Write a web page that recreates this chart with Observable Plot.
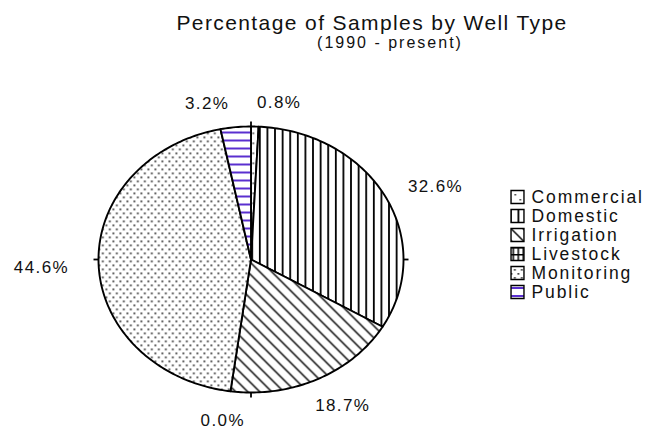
<!DOCTYPE html>
<html>
<head>
<meta charset="utf-8">
<script src="https://cdn.jsdelivr.net/npm/d3@7"></script>
<script src="https://cdn.jsdelivr.net/npm/@observablehq/plot@0.6"></script>
<style>
  html, body { margin: 0; padding: 0; background: #fff; }
  #wrap { position: relative; width: 656px; height: 433px; overflow: hidden;
          font-family: "Liberation Sans", Arial, sans-serif; color: #000; background: #fff; }
  #wrap > * { position: absolute; }
  #chart { left: 0; top: 0; }
  #title { left: 172px; top: 12px; width: 400px; text-align: center;
           font-size: 21px; line-height: 21px; letter-spacing: 1.4px; white-space: nowrap; color: #111; }
  #subtitle { left: 290px; top: 35px; width: 200px; text-align: center;
              font-size: 16px; line-height: 16px; letter-spacing: 2px; white-space: nowrap; color: #111; }
  #legend { left: 503px; top: 185px; }
  #chart text { letter-spacing: 1.4px; }
  #legend text { letter-spacing: 1.9px; }
</style>
</head>
<body>
<div id="wrap">
  <div id="chart"></div>
  <div id="title"></div>
  <div id="subtitle"></div>
  <div id="legend"></div>
</div>
<script>
// ---- data ----
const titleText = "Percentage of Samples by Well Type";
const subtitleText = "(1990 - present)";
const categories = ["Commercial", "Domestic", "Irrigation", "Livestock", "Monitoring", "Public"];
const percents = [0.8, 32.6, 18.7, 0.0, 44.6, 3.2];
const labelTexts = ["0.8%", "32.6%", "18.7%", "0.0%", "44.6%", "3.2%"];
const tickAngles = [0, 90, 180, 270];

// ---- layout ----
const W = 656, H = 433;
const frame = {left: 98, right: 403, top: 126, bottom: 392};
const pxX = (frame.right - frame.left) / 2;
const pxY = (frame.bottom - frame.top) / 2;
const KX = 1.375, KY = 1.2;

document.getElementById("title").textContent = titleText;
document.getElementById("subtitle").textContent = subtitleText;

const patternIds = categories.map(c => "pat-" + c.toLowerCase());
const colorScale = {type: "ordinal", domain: categories, range: patternIds.map(id => `url(#${id})`)};

const rad = a => a * Math.PI / 180;
const total = d3.sum(percents);
let cum = 0;
const slices = categories.map((c, i) => {
  const a0 = cum / total * 360;
  cum += percents[i];
  const a1 = cum / total * 360;
  return {category: c, value: percents[i], label: labelTexts[i], a0, a1, mid: (a0 + a1) / 2};
});

const outline = slices.filter(s => s.value > 0).flatMap(s => {
  const n = Math.max(2, Math.ceil(s.a1 - s.a0));
  const pts = [{category: s.category, x: 0, y: 0}];
  for (let k = 0; k <= n; k++) {
    const a = s.a0 + (s.a1 - s.a0) * k / n;
    pts.push({category: s.category, x: Math.sin(rad(a)), y: Math.cos(rad(a))});
  }
  return pts;
});

// label anchors outside the pie, spread apart where they collide
const labels = slices.map(s => ({...s, lx: Math.sin(rad(s.mid)) * KX, ly: Math.cos(rad(s.mid)) * KY}));
const minSep = 72 / pxX;
for (let i = 0; i < labels.length; i++) {
  for (let j = i + 1; j < labels.length; j++) {
    const A = labels[i], B = labels[j];
    if (Math.abs(A.ly - B.ly) * pxY < 20 && Math.abs(A.lx - B.lx) < minSep) {
      const m = (A.lx + B.lx) / 2;
      const [lo, hi] = A.lx < B.lx ? [A, B] : [B, A];
      lo.lx = m - minSep / 2; hi.lx = m + minSep / 2;
    }
  }
}

const chart = Plot.plot({
  width: W, height: H,
  marginLeft: frame.left, marginRight: W - frame.right,
  marginTop: frame.top, marginBottom: H - frame.bottom,
  x: {domain: [-1, 1], axis: null},
  y: {domain: [-1, 1], axis: null},
  color: colorScale,
  style: {fontFamily: '"Liberation Sans", Arial, sans-serif', background: "transparent", overflow: "visible"},
  marks: [
    Plot.line(outline, {x: "x", y: "y", z: "category", fill: "category", stroke: "black",
                        strokeWidth: 1.9, curve: "linear-closed", strokeLinejoin: "round"}),
    Plot.link(tickAngles, {
      x1: a => Math.sin(rad(a)), y1: a => Math.cos(rad(a)),
      x2: a => Math.sin(rad(a)) * (1 + 5 / pxX), y2: a => Math.cos(rad(a)) * (1 + 5 / pxY),
      stroke: "black", strokeWidth: 1.8
    }),
    Plot.text(labels, {x: "lx", y: "ly", text: "label", fontSize: 17, dy: 3, fill: "#111"})
  ]
});

const defs = `
<defs>
  <pattern id="pat-commercial" patternUnits="userSpaceOnUse" width="10" height="10">
    <rect width="10" height="10" fill="#fff"/>
    <rect x="2" y="2" width="1.5" height="1.5" fill="#222"/>
    <rect x="7" y="7" width="1.5" height="1.5" fill="#222"/>
  </pattern>
  <pattern id="pat-domestic" patternUnits="userSpaceOnUse" width="7.6" height="8">
    <rect width="7.6" height="8" fill="#fff"/>
    <rect x="0" y="0" width="1.8" height="8" fill="#000"/>
  </pattern>
  <pattern id="pat-irrigation" patternUnits="userSpaceOnUse" width="12" height="12">
    <rect width="12" height="12" fill="#fff"/>
    <path d="M0,0L12,12M-6,6L6,18M6,-6L18,6" stroke="#000" stroke-width="1.4"/>
  </pattern>
  <pattern id="pat-livestock" patternUnits="userSpaceOnUse" width="5" height="7">
    <rect width="5" height="7" fill="#fff"/>
    <rect x="0" y="0" width="1.5" height="7" fill="#000"/>
    <rect x="0" y="0" width="5" height="1.5" fill="#000"/>
  </pattern>
  <pattern id="pat-monitoring" patternUnits="userSpaceOnUse" width="7" height="8">
    <rect width="7" height="8" fill="#fff"/>
    <rect x="0" y="0" width="1.7" height="1.7" fill="#2a2a2a"/>
    <rect x="3.5" y="4" width="1.7" height="1.7" fill="#2a2a2a"/>
  </pattern>
  <pattern id="pat-public" patternUnits="userSpaceOnUse" width="8" height="8">
    <rect width="8" height="8" fill="#fff"/>
    <rect x="0" y="3" width="8" height="2" fill="#5a2fcf"/>
  </pattern>
</defs>`;
chart.insertAdjacentHTML("afterbegin", defs);
document.getElementById("chart").appendChild(chart);

const legend = Plot.plot({
  width: 153, height: 117, margin: 0,
  y: {type: "band", domain: categories, axis: null, padding: 0},
  color: colorScale,
  style: {fontFamily: '"Liberation Sans", Arial, sans-serif', background: "transparent", overflow: "visible"},
  marks: [
    Plot.dot(categories, {y: d => d, fill: d => d, frameAnchor: "left", dx: 14, symbol: "square",
                          r: 7.3, stroke: "black", strokeWidth: 1.4}),
    Plot.text(categories, {y: d => d, text: d => d, frameAnchor: "left", dx: 28, textAnchor: "start",
                           fontSize: 17.5, fill: "#111"})
  ]
});
document.getElementById("legend").appendChild(legend);
</script>
</body>
</html>
